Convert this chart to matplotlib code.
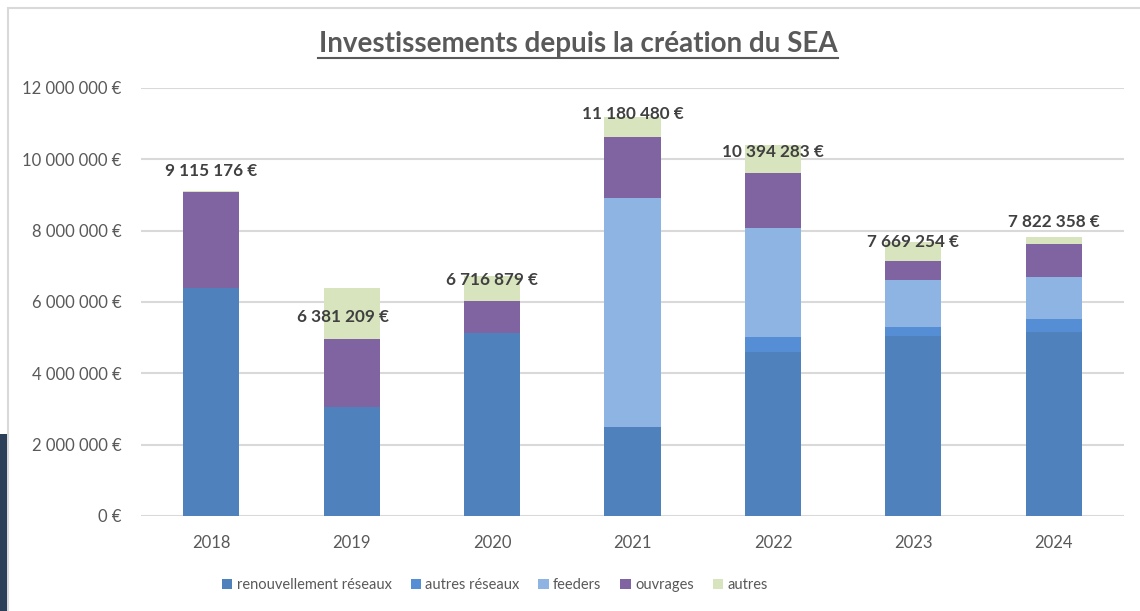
import numpy as np
import matplotlib
matplotlib.use("Agg")
import matplotlib.pyplot as plt
from matplotlib.patches import Rectangle

# Data (euros)
years = ["2018", "2019", "2020", "2021", "2022", "2023", "2024"]
renouvellement = [6390000, 3060000, 5130000, 2500000, 4600000, 5055000, 5150000]
autres_reseaux = [0, 0, 0, 0, 420000, 245000, 370000]
feeders = [0, 0, 0, 6420000, 3050000, 1320000, 1180000]
ouvrages = [2700000, 1900000, 900000, 1710000, 1550000, 520000, 930000]
totals = [9115176, 6381209, 6716879, 11180480, 10394283, 7669254, 7822358]

series_names = ["renouvellement réseaux", "autres réseaux", "feeders", "ouvrages", "autres"]
colors = ["#4F81BD", "#558ED5", "#8EB4E3", "#8064A2", "#D7E4BD"]

# label vertical nudges (data units) and x nudges (category units), as placed in source
label_dy = [560000, -810000, -110000, 90000, -200000, 0, 420000]
label_dx = [0, -0.06, 0, 0, 0, 0, 0]

plt.rcParams['font.family'] = ['Lato', 'DejaVu Sans']

def fmt(v):
    return "{:,}".format(int(round(v))).replace(",", " ") + " €"

autres = [t - r - a - f - o for t, r, a, f, o in
          zip(totals, renouvellement, autres_reseaux, feeders, ouvrages)]
stack = [renouvellement, autres_reseaux, feeders, ouvrages, autres]

fig = plt.figure(figsize=(11.4, 6.11), dpi=100, facecolor='white')
ax = fig.add_axes([0.1237, 0.1555, 0.8623, 0.7005])

x = np.arange(len(years))
bottom = np.zeros(len(years))
for vals, name, c in zip(stack, series_names, colors):
    ax.bar(x, vals, width=0.4, bottom=bottom, color=c, label=name, zorder=3)
    bottom += np.array(vals)

for i, t in enumerate(totals):
    ax.text(x[i] + label_dx[i], t + label_dy[i], fmt(t), ha='center', va='center',
            fontsize=12.3, fontweight='bold', color='#404040', zorder=5)

ax.set_ylim(0, 12000000)
ax.set_xlim(-0.5, len(years) - 0.5)
ax.set_yticks(np.arange(0, 12000001, 2000000))
ax.set_yticklabels([fmt(v) for v in np.arange(0, 12000001, 2000000)])
ax.set_xticks(x)
ax.set_xticklabels(years)
ax.tick_params(axis='both', length=0, labelsize=12, colors='#595959')
ax.tick_params(axis='y', pad=14)
ax.tick_params(axis='x', pad=14)
for s in ax.spines.values():
    s.set_visible(False)
ax.yaxis.grid(True, color='#D9D9D9', linewidth=1.5, zorder=0)
ax.set_axisbelow(True)

fig.text(0.507, 0.928, "Investissements depuis la création du SEA", ha='center', va='center',
         fontsize=20, fontweight='bold', color='#595959')
# underline of title
fig.add_artist(plt.Line2D([0.279, 0.735], [0.905, 0.905], color='#595959', linewidth=1.5))

leg = ax.legend(loc='center', bbox_to_anchor=(0.36, -0.162), ncol=5, frameon=False,
                fontsize=10.5, handlelength=0.7, handleheight=0.7, handletextpad=0.3,
                columnspacing=1.3, labelcolor='#595959')

# chart frame and left strip
fig.add_artist(Rectangle((0.007, -0.01), 1.0, 0.997, transform=fig.transFigure,
                         fill=False, edgecolor='#D9D9D9', linewidth=1.5))
fig.add_artist(Rectangle((0.0, 0.0), 0.006, 0.29, transform=fig.transFigure,
                         facecolor='#2B3F58', edgecolor='none'))

fig.savefig("out.png", dpi=100, facecolor='white')
